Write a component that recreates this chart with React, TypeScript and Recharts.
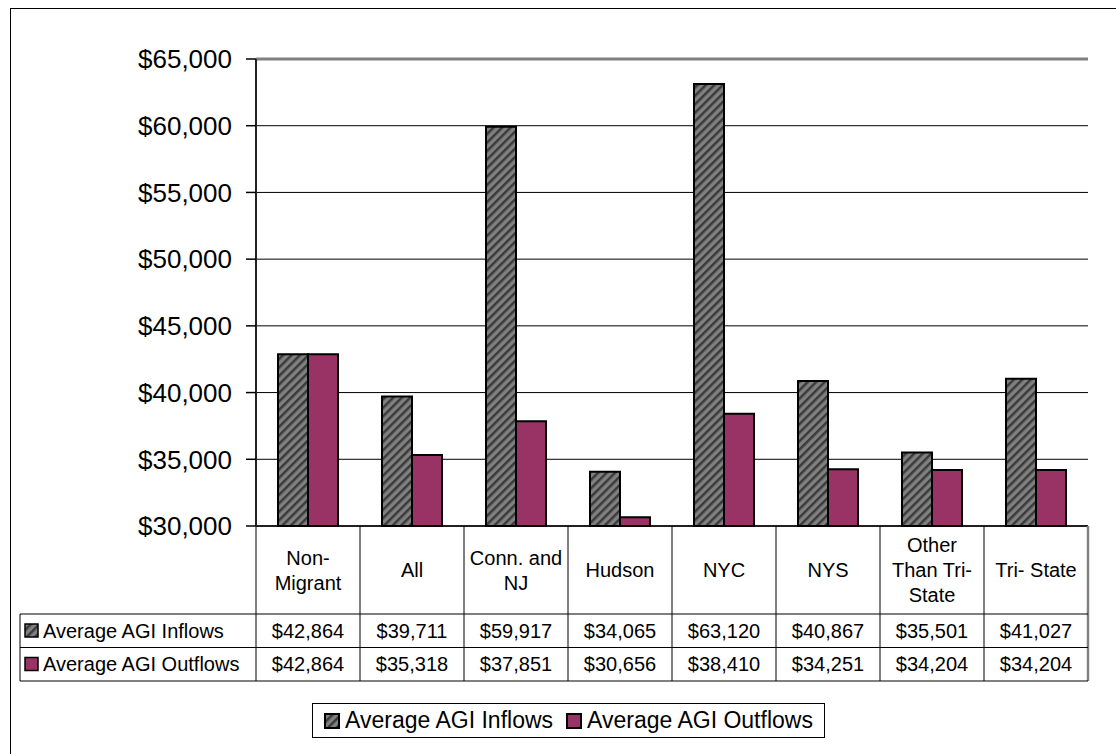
import React from "react";
import {
    BarChart,
    Bar,
    XAxis,
    YAxis,
    CartesianGrid,
    ReferenceLine,
    Legend,
} from "recharts";

const categories = ["Non-Migrant", "All", "Conn. and NJ", "Hudson", "NYC", "NYS", "Other Than Tri-State", "Tri- State"];
const categoryLines = [
    ["Non-", "Migrant"],
    ["All"],
    ["Conn. and", "NJ"],
    ["Hudson"],
    ["NYC"],
    ["NYS"],
    ["Other", "Than Tri-", "State"],
    ["Tri- State"],
];
const inflows = [42864, 39711, 59917, 34065, 63120, 40867, 35501, 41027];
const outflows = [42864, 35318, 37851, 30656, 38410, 34251, 34204, 34204];
const seriesNames = ["Average AGI Inflows", "Average AGI Outflows"];
const yTicks = [30000, 35000, 40000, 45000, 50000, 55000, 60000, 65000];

const data = categories.map((c, i) => ({
    category: c,
    inflows: inflows[i],
    outflows: outflows[i],
}));

const FONT = '"Liberation Sans", Arial, Helvetica, sans-serif';
const W = 1116;
const H = 754;
const MARGIN = { top: 59, right: 28, bottom: 73, left: 0 };
const Y_AXIS_W = 256;
const PLOT_W = W - MARGIN.left - Y_AXIS_W - MARGIN.right;
const HEAD_H = 88;
const ROW_H = 33.5;
const TABLE_LEFT = 20;
const GRAY = "#808080";
const MAGENTA = "#993366";

const money = (v: number) => "$" + v.toLocaleString("en-US");

// cell fill for a series (hatched gray / plain magenta)
const fillFor = (key: string, hatchId: string) =>
    key === "inflows" ? `url(#${hatchId})` : MAGENTA;

function Hatch({ id }: { id: string }) {
    return (
        <pattern id={id} width={6} height={6} patternUnits="userSpaceOnUse" patternTransform="rotate(45)">
            <rect width={6} height={6} fill={GRAY} />
            <rect width={2.5} height={6} fill="#3a3a3a" />
        </pattern>
    );
}

function TableTick(props: any) {
    const { x, y, payload } = props;
    const i = payload.index;
    const bw = PLOT_W / categories.length;
    const x0 = x - bw / 2;
    const x1 = x + bw / 2;
    const yA = y + HEAD_H;
    const yB = yA + ROW_H;
    const yC = yB + ROW_H;
    const last = i === categories.length - 1;
    const lines = categoryLines[i];
    const midY = y + HEAD_H / 2;
    const rows = [inflows[i], outflows[i]];

    return (
        <g fontFamily={FONT} fontSize={20}>
            {i === 0 && (
                <g>
                    <line x1={x0} y1={y} x2={x0} y2={yC} stroke="#000" />
                    <line x1={TABLE_LEFT} y1={yA} x2={x0} y2={yA} stroke="#000" />
                    <line x1={TABLE_LEFT} y1={yB} x2={x0} y2={yB} stroke="#000" />
                    <line x1={TABLE_LEFT} y1={yC} x2={x0} y2={yC} stroke="#000" />
                    <line x1={TABLE_LEFT} y1={yA} x2={TABLE_LEFT} y2={yC} stroke="#000" />
                    {seriesNames.map((name, k) => {
                        const top = yA + k * ROW_H;
                        return (
                            <g key={name}>
                                <rect
                                    x={TABLE_LEFT + 5}
                                    y={top + 10}
                                    width={13}
                                    height={13}
                                    fill={k === 0 ? "url(#hatch)" : MAGENTA}
                                    stroke="#000"
                                    strokeWidth={1.5}
                                />
                                <text x={TABLE_LEFT + 23} y={top + ROW_H / 2 + 7} fill="#000">
                                    {name}
                                </text>
                            </g>
                        );
                    })}
                </g>
            )}
            <line
                x1={x1}
                y1={y}
                x2={x1}
                y2={yC}
                stroke={last ? GRAY : "#000"}
                strokeWidth={last ? 2.5 : 1}
            />
            <line x1={x0} y1={yA} x2={x1} y2={yA} stroke="#000" />
            <line x1={x0} y1={yB} x2={x1} y2={yB} stroke="#000" />
            <line x1={x0} y1={yC} x2={x1} y2={yC} stroke="#000" />

            <text textAnchor="middle" fill="#000">
                {lines.map((l, k) => (
                    <tspan key={k} x={x} y={midY + (k - (lines.length - 1) / 2) * 25 + 7}>
                        {l}
                    </tspan>
                ))}
            </text>

            {rows.map((v, k) => (
                <text key={k} x={x} y={yA + k * ROW_H + ROW_H / 2 + 7} textAnchor="middle" fill="#000">
                    {money(v)}
                </text>
            ))}
        </g>
    );
}

function LegendBox(props: any) {
    const { payload = [] } = props;
    return (
        <div
            style={{
                width: 513,
                height: 35,
                boxSizing: "border-box",
                border: "1px solid #000",
                background: "#fff",
                display: "flex",
                alignItems: "center",
                justifyContent: "center",
                fontFamily: FONT,
                fontSize: 23,
                color: "#000",
                whiteSpace: "nowrap",
            }}
        >
            {payload.map((entry: any, k: number) => (
                <span key={k} style={{ display: "flex", alignItems: "center", marginLeft: k ? 13 : 0 }}>
                    <svg width={16} height={16} style={{ marginRight: 5 }}>
                        <defs>
                            <Hatch id={"hatchLg" + k} />
                        </defs>
                        <rect
                            x={1}
                            y={1}
                            width={14}
                            height={14}
                            fill={fillFor(entry.dataKey, "hatchLg" + k)}
                            stroke="#000"
                            strokeWidth={2}
                        />
                    </svg>
                    {entry.value}
                </span>
            ))}
        </div>
    );
}

export default function App() {
    return (
        <div
            style={{
                position: "fixed",
                left: 0,
                top: 0,
                width: W,
                height: H,
                overflow: "hidden",
                background: "#fff",
            }}
        >
            <div
                style={{
                    position: "absolute",
                    left: 10,
                    top: 8,
                    width: 1200,
                    height: 900,
                    border: "1px solid #000",
                }}
            />

            <BarChart
                width={W}
                height={H}
                data={data}
                margin={MARGIN}
                barSize={30}
                barGap={0}
            >
                <defs>
                    <Hatch id="hatch" />
                </defs>

                <CartesianGrid yAxisId="l" vertical={false} stroke="#000" strokeWidth={1} />

                <XAxis
                    dataKey="category"
                    height={HEAD_H + 2 * ROW_H}
                    interval={0}
                    tickLine={false}
                    tickSize={0}
                    tickMargin={0}
                    axisLine={{ stroke: "#000", strokeWidth: 1.5 }}
                    tick={(p: any) => <TableTick {...p} />}
                />

                <YAxis
                    yAxisId="l"
                    width={Y_AXIS_W}
                    domain={[30000, 65000]}
                    ticks={yTicks}
                    interval={0}
                    tickFormatter={money}
                    axisLine={{ stroke: "#222", strokeWidth: 2 }}
                    tickLine={{ stroke: "#000", strokeWidth: 1.5 }}
                    tickSize={10}
                    tickMargin={14}
                    tick={{ fontSize: 26, fill: "#000", fontFamily: FONT }}
                />

                <YAxis
                    yAxisId="r"
                    orientation="right"
                    width={0}
                    domain={[30000, 65000]}
                    ticks={yTicks}
                    tick={false}
                    tickLine={false}
                    axisLine={{ stroke: GRAY, strokeWidth: 3 }}
                />

                <ReferenceLine yAxisId="l" y={65000} stroke={GRAY} strokeWidth={3} />

                <Bar
                    yAxisId="l"
                    dataKey="inflows"
                    name={seriesNames[0]}
                    fill="url(#hatch)"
                    stroke="#000"
                    strokeWidth={2}
                    isAnimationActive={false}
                />

                <Bar
                    yAxisId="l"
                    dataKey="outflows"
                    name={seriesNames[1]}
                    fill={MAGENTA}
                    stroke="#000"
                    strokeWidth={2}
                    isAnimationActive={false}
                />

                <Legend
                    layout="horizontal"
                    verticalAlign="middle"
                    align="center"
                    wrapperStyle={{ left: 312, top: 703, width: 513, height: 35 }}
                    content={(p: any) => <LegendBox {...p} />}
                />
            </BarChart>
        </div>
    );
}
